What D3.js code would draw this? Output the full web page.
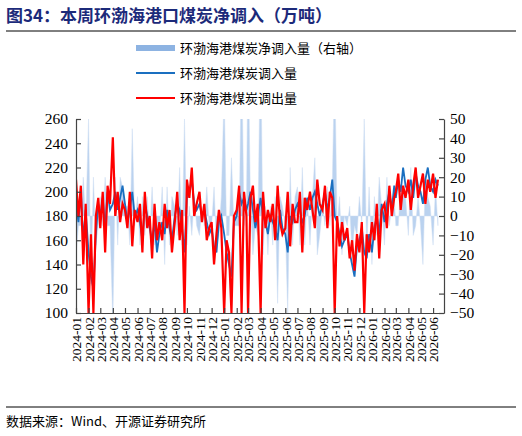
<!DOCTYPE html><html><head><meta charset="utf-8"><script src="https://cdn.jsdelivr.net/npm/d3@7"></script>
<style>body{margin:0;background:#fff}text{font-family:"Liberation Serif","Times New Roman",serif}</style></head><body><svg id="c" width="522" height="436"></svg>
<script>
const months=["2024-01","2024-02","2024-03","2024-04","2024-05","2024-06","2024-07","2024-08","2024-09","2024-10","2024-11","2024-12","2025-01","2025-02","2025-03","2025-04","2025-05","2025-06","2025-07","2025-08","2025-09","2025-10","2025-11","2025-12","2026-01","2026-02","2026-03","2026-04","2026-05","2026-06"];
const sampleDays=[1,7,13,19,25];
const inflow=[[190,175,200,160,185],[150,130,120,165,190],[180,195,170,200,185],[190,200,185,195,205],[190,175,185,200,180],[185,175,160,190,180],[170,160,175,150,165],[175,165,185,170,160],[180,190,185,170,150],[195,200,210,190,185],[190,180,185,175,165],[170,155,150,175,180],[165,150,140,130,175],[180,200,190,195,185],[190,200,185,170,180],[195,180,175,165,180],[175,170,160,185,170],[165,150,180,175,185],[190,185,175,180,195],[185,195,200,190,180],[190,200,185,195,210],[180,175,165,155,160],[165,150,140,130,155],[160,170,150,145,165],[150,170,180,165,190],[175,190,200,185,205],[195,210,200,220,205],[200,210,195,215,205],[200,190,210,220,205],[200,210,205]];
const outflow=[[210,180,205,140,190],[100,165,100,180,195],[170,200,150,205,190],[245,180,200,175,190],[185,170,200,155,185],[175,190,150,200,170],[180,145,190,160,175],[160,190,170,185,150],[175,200,160,185,100],[210,195,220,180,190],[200,175,190,160,170],[175,140,165,185,170],[100,160,150,100,180],[185,205,100,200,180],[100,195,205,175,190],[100,200,170,185,175],[190,160,205,175,165],[170,200,155,190,175],[175,200,150,195,185],[200,185,170,210,190],[185,205,170,200,195],[100,180,155,175,160],[170,145,160,135,165],[150,175,100,165,150],[175,160,190,145,185],[190,170,205,180,195],[200,215,185,205,195],[210,185,205,220,195],[205,215,190,210,200],[215,195,210]];
const leftTicks=[100,120,140,160,180,200,220,240,260];
const rightTicks=[-50,-40,-30,-20,-10,0,10,20,30,40,50];

const pts=[];
months.forEach((m,i)=>{inflow[i].forEach((v,j)=>{pts.push({d:new Date(m+"-"+String(sampleDays[j]).padStart(2,"0")),a:v,b:outflow[i][j],n:v-outflow[i][j]});});});

const svg=d3.select("#c");
const L=76,R=444,T=119,B=313;
const x=d3.scaleTime().domain([new Date("2024-01-01"),new Date("2026-06-28")]).range([L,R]);
const y=d3.scaleLinear().domain([100,260]).range([B,T]);
const y2=d3.scaleLinear().domain([-50,50]).range([B,T]);

svg.append("text").attr("x",6).attr("y",22).attr("fill","#1c2a7a").attr("font-size",17).attr("font-weight","bold").style("font-family","'Noto Sans CJK SC'").text("图34：本周环渤海港口煤炭净调入（万吨）");
svg.append("line").attr("x1",6).attr("x2",516).attr("y1",31).attr("y2",31).attr("stroke","#000");
svg.append("line").attr("x1",6).attr("x2",516).attr("y1",407).attr("y2",407).attr("stroke","#000");
svg.append("text").attr("x",6).attr("y",426).attr("font-size",13).style("font-family","'Noto Sans CJK SC'").text("数据来源：Wind、开源证券研究所");

const leg=[["环渤海港煤炭净调入量（右轴）","#8db3e2",6],["环渤海港煤炭调入量","#1a6fc0",2],["环渤海港煤炭调出量","#ff0000",2]];
leg.forEach((l,i)=>{const yy=48+i*25;svg.append("line").attr("x1",136).attr("x2",175).attr("y1",yy).attr("y2",yy).attr("stroke",l[1]).attr("stroke-width",l[2]);
svg.append("text").attr("x",180).attr("y",yy+5).attr("font-size",13).style("font-family","'Noto Sans CJK SC'").text(l[0]);});

svg.append("clipPath").attr("id","cp").append("rect").attr("x",L).attr("y",T).attr("width",R-L).attr("height",B-T);
const g=svg.append("g").attr("clip-path","url(#cp)");
g.append("path").datum(pts).attr("fill","#a9c7ec").attr("opacity",0.8).attr("stroke","#c2d7f0").attr("stroke-width",0.5)
 .attr("d",d3.area().x(d=>x(d.d)).y0(y2(0)).y1(d=>y2(d.n)));
g.append("path").datum(pts).attr("fill","none").attr("stroke","#1a6fc0").attr("stroke-width",1.8).attr("d",d3.line().x(d=>x(d.d)).y(d=>y(d.a)));
g.append("path").datum(pts).attr("fill","none").attr("stroke","#ff0000").attr("stroke-width",2.2).attr("d",d3.line().x(d=>x(d.d)).y(d=>y(d.b)));

const ax=svg.append("g").attr("transform",`translate(0,${B})`).call(d3.axisBottom(x).tickValues(months.map(m=>new Date(m+"-01"))).tickSizeInner(-5).tickSizeOuter(0).tickFormat(d3.timeFormat("%Y-%m")));
ax.selectAll("text").attr("transform","rotate(-90)").attr("text-anchor","end").attr("x",-4).attr("y",0).attr("dy","0.35em").attr("font-size",13.5).attr("fill","#000").style("font-family","Liberation Serif");
const al=svg.append("g").attr("transform",`translate(${L},0)`).call(d3.axisLeft(y).tickValues(leftTicks).tickSizeInner(-5).tickSizeOuter(0));
al.selectAll("text").attr("font-size",15.5).attr("x",-8).attr("fill","#000").style("font-family","Liberation Serif");
const ar=svg.append("g").attr("transform",`translate(${R},0)`).call(d3.axisRight(y2).tickValues(rightTicks).tickSizeInner(-5).tickSizeOuter(0));
ar.selectAll("text").attr("font-size",15.5).attr("x",6).attr("fill","#000").style("font-family","Liberation Serif");
svg.selectAll(".domain,.tick line").attr("stroke","#444").attr("stroke-width",1.2);
</script></body></html>
